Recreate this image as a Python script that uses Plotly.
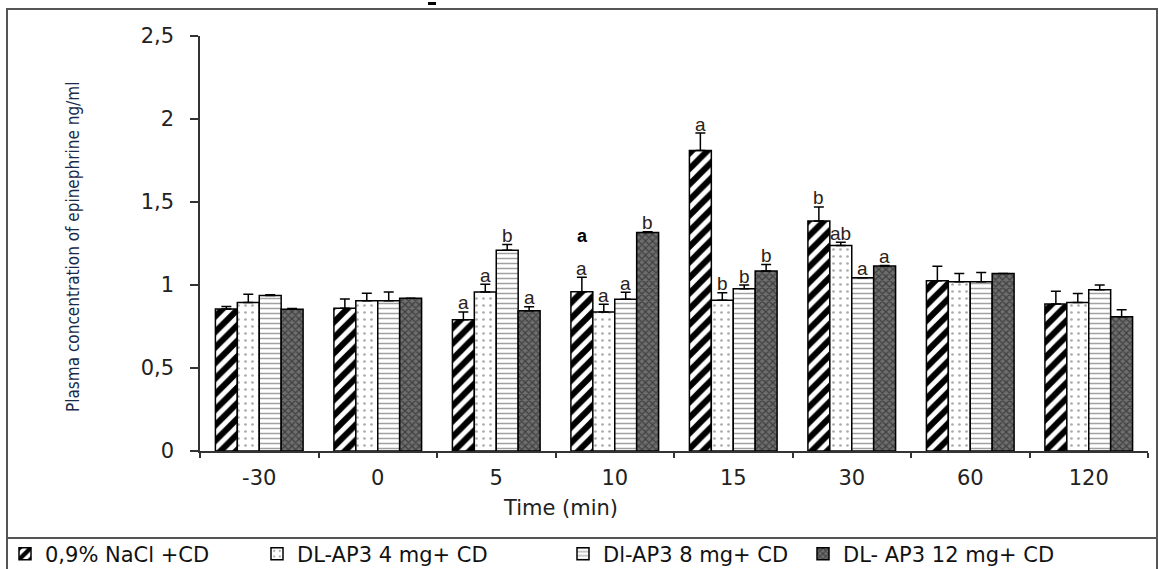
import plotly.graph_objects as go

# ---- data ----
times = ["-30", "0", "5", "10", "15", "30", "60", "120"]
series_names = ["0,9% NaCl +CD", "DL-AP3 4 mg+ CD", "Dl-AP3 8 mg+ CD", "DL- AP3 12 mg+ CD"]

nacl = [0.855, 0.86, 0.79, 0.96, 1.81, 1.385, 1.025, 0.885]
nacl_err = [0.015, 0.055, 0.048, 0.086, 0.105, 0.085, 0.088, 0.078]
ap4 = [0.895, 0.905, 0.958, 0.837, 0.908, 1.238, 1.02, 0.895]
ap4_err = [0.05, 0.045, 0.046, 0.047, 0.046, 0.02, 0.05, 0.054]
ap8 = [0.937, 0.905, 1.21, 0.914, 0.978, 1.044, 1.02, 0.972]
ap8_err = [0.004, 0.053, 0.034, 0.042, 0.022, 0.0, 0.056, 0.028]
ap12 = [0.854, 0.92, 0.845, 1.317, 1.084, 1.114, 1.07, 0.809]
ap12_err = [0.004, 0.0, 0.024, 0.004, 0.04, 0.004, 0.0, 0.042]

nacl_letters = ["", "", "a", "a", "a", "b", "", ""]
ap4_letters = ["", "", "a", "a", "b", "ab", "", ""]
ap8_letters = ["", "", "b", "a", "b", "a", "", ""]
ap12_letters = ["", "", "a", "b", "b", "a", "", ""]

y_ticks = [0, 0.5, 1, 1.5, 2, 2.5]
y_tick_text = ["0", "0,5", "1", "1,5", "2", "2,5"]

values = [nacl, ap4, ap8, ap12]
errors = [nacl_err, ap4_err, ap8_err, ap12_err]
letters = [nacl_letters, ap4_letters, ap8_letters, ap12_letters]

# ---- layout geometry (pixels) ----
W, H = 1158, 569
ML, MR, MT, MB = 200, 10, 36, 118
PW = W - ML - MR
PH = H - MT - MB


def px(xp):
    return (xp - ML) / PW


def py(yp):
    return (H - MB - yp) / PH


patterns = [
    dict(shape="/", fgcolor="black", bgcolor="white", size=11, solidity=0.55, fgopacity=1),
    dict(shape=".", fgcolor="#555555", bgcolor="white", size=7, solidity=0.12),
    dict(shape="-", fgcolor="#444444", bgcolor="white", size=5, solidity=0.3),
    dict(shape="x", fgcolor="#111111", bgcolor="#6e6e6e", size=5, solidity=0.45),
]

legend_ids = ["legend", "legend2", "legend3", "legend4"]

fig = go.Figure()
for i in range(4):
    fig.add_trace(go.Bar(
        x=times, y=values[i], name=series_names[i],
        marker=dict(color="white", line=dict(color="black", width=1.5), pattern=patterns[i]),
        error_y=dict(type="data", array=errors[i], arrayminus=[0] * len(times), symmetric=False,
                     color="black", thickness=1.5, width=5),
        legend=legend_ids[i],
    ))

# significance letters
bargap = 0.26
bw = (1 - bargap) / 4
annotations = []
for i in range(4):
    off = -((1 - bargap) / 2) + bw * (i + 0.5)
    for j, t in enumerate(times):
        if letters[i][j]:
            annotations.append(dict(
                x=j + off, y=values[i][j] + errors[i][j], xref="x", yref="y",
                text=letters[i][j], showarrow=False, yanchor="middle", yshift=9,
                font=dict(family="Liberation Sans, Arial, sans-serif", size=19, color="#2a2118"),
            ))

# bold extra "a"
annotations.append(dict(x=2.73, y=1.297, xref="x", yref="y", text="<b>a</b>", showarrow=False,
                        font=dict(family="Liberation Sans, Arial, sans-serif", size=18, color="black")))

# y title
annotations.append(dict(x=px(73), y=py(247), xref="paper", yref="paper", text="Plasma concentration of epinephrine ng/ml",
                        showarrow=False, textangle=-90, xanchor="center", yanchor="middle",
                        font=dict(family="Liberation Sans Narrow, DejaVu Sans Condensed, Arial Narrow, sans-serif",
                                  size=17, color="#1a2a4a")))
# x title
annotations.append(dict(x=px(560), y=py(508), xref="paper", yref="paper", text="Time (min)",
                        showarrow=False, xanchor="center", yanchor="middle",
                        font=dict(family="DejaVu Sans, sans-serif", size=21, color="#222222")))

shapes = [
    # outer frame
    dict(type="rect", xref="paper", yref="paper", x0=px(7), x1=px(1157), y0=py(575), y1=py(9),
         line=dict(color="#555555", width=2), layer="below"),
    # legend box separator
    dict(type="line", xref="paper", yref="paper", x0=px(7), x1=px(1157), y0=py(538), y1=py(538),
         line=dict(color="#555555", width=2)),
    # small dash at top
    dict(type="line", xref="paper", yref="paper", x0=px(428), x1=px(436), y0=py(3.5), y1=py(3.5),
         line=dict(color="black", width=3)),
]

legend_text_x = [45, 297, 603, 843]
legend_common = dict(orientation="h", yanchor="middle", xanchor="left", y=py(554),
                     bgcolor="rgba(0,0,0,0)", itemwidth=30,
                     font=dict(family="DejaVu Sans, sans-serif", size=21, color="#111111"))
legend_layout = {}
for k, lid in enumerate(legend_ids):
    legend_layout[lid] = dict(legend_common, x=px(legend_text_x[k] - 40))

fig.update_layout(
    width=W, height=H,
    margin=dict(l=ML, r=MR, t=MT, b=MB, pad=0, autoexpand=False),
    paper_bgcolor="white", plot_bgcolor="white",
    barmode="group", bargap=bargap, bargroupgap=0,
    showlegend=True,
    annotations=annotations,
    shapes=shapes,
    xaxis=dict(type="category", showgrid=False, showline=True, linecolor="#333333", linewidth=1.5,
               ticks="outside", ticklen=5, tickcolor="#333333", tickwidth=1.5, tickson="boundaries",
               tickfont=dict(family="DejaVu Sans, sans-serif", size=21, color="#222222"),
               ticklabelstandoff=7, range=[-0.5, 7.5], automargin=False),
    yaxis=dict(range=[0, 2.5], tickvals=y_ticks, ticktext=y_tick_text, showgrid=False, zeroline=False,
               showline=True, linecolor="#333333", linewidth=1.5, ticks="outside", ticklen=8,
               tickcolor="#333333", tickwidth=1.5,
               tickfont=dict(family="DejaVu Sans, sans-serif", size=21, color="#222222"),
               ticklabelstandoff=12, automargin=False),
    **legend_layout,
)

fig.write_html("out.html", config={"displayModeBar": False},
               post_script="document.body.style.margin='0';document.body.style.overflow='hidden';")
